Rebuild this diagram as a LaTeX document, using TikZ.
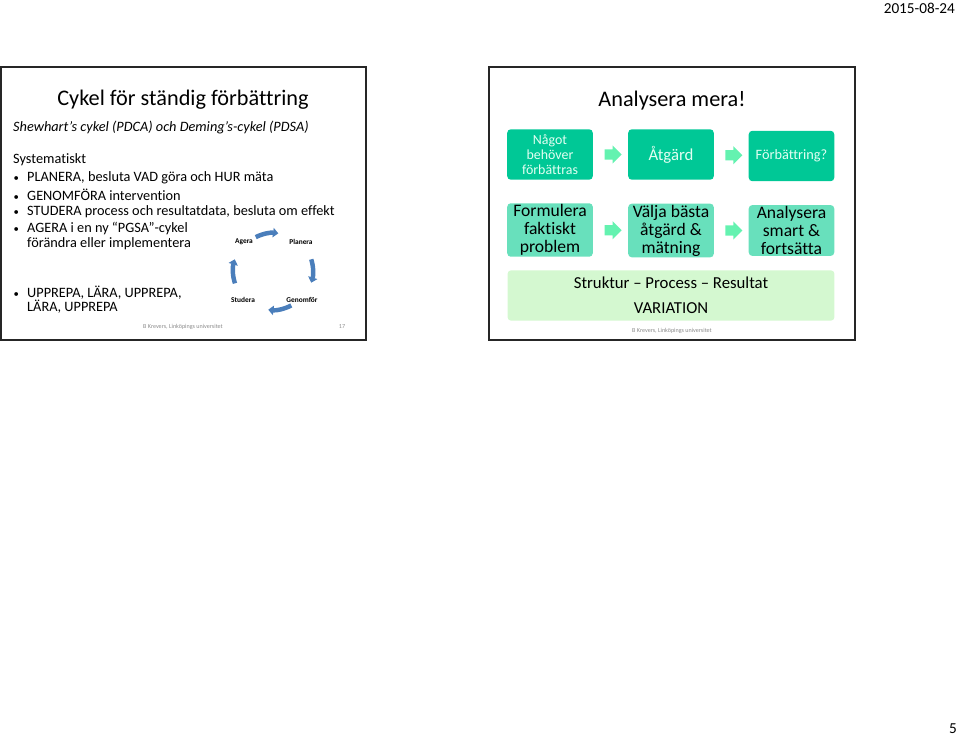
\documentclass[tikz,border=0pt]{standalone}
\usepackage{fontspec}
\setmainfont{Carlito}[Ligatures=CommonOff]
\usepackage{tikz}
\usetikzlibrary{arrows.meta,positioning,calc,shapes.arrows}
\definecolor{actiongreen}{RGB}{0,200,150}
\definecolor{stepgreen}{RGB}{104,224,188}
\definecolor{arrowgreen}{RGB}{100,242,176}
\definecolor{variationgreen}{RGB}{212,248,208}
\definecolor{cycleblue}{RGB}{74,126,187}
\definecolor{palewhite}{RGB}{226,255,242}
\newcommand{\punkt}{\llap{\raisebox{0.4pt}{\scalebox{0.75}{\textbullet}}\hspace{7pt}}}
\tikzset{
  slideframe/.style={draw=black!85,line width=1.1pt},
  slidetitle/.style={font=\fontsize{19}{22}\selectfont},
  bodytext/.style={anchor=west,align=left,inner sep=0pt,font=\fontsize{12.2}{12.2}\selectfont},
  cyclelabel/.style={font=\fontsize{6.3}{7}\selectfont\bfseries},
  cyclearrow/.style={-{Triangle[length=4.5pt,width=8pt]},line width=3.8pt,draw=cycleblue},
  topbox/.style={fill=actiongreen,rounded corners=3pt,minimum width=73pt,minimum height=43pt,
    align=center,text=palewhite,inner sep=1pt},
  stepbox/.style={fill=stepgreen,rounded corners=3pt,minimum width=73pt,minimum height=43pt,
    align=center,inner sep=1pt,font=\fontsize{15}{15.4}\selectfont},
  flowarrow/.style={single arrow,fill=arrowgreen,minimum height=14.5pt,inner sep=4.2pt,
    single arrow head extend=3.3pt},
  footer/.style={font=\fontsize{5.2}{6}\selectfont,text=black!45}
}
\begin{document}
\begin{tikzpicture}[x=0.03cm,y=-0.03cm]
  \useasboundingbox (0,0) rectangle (960,735);
  % header and page number
  \node[anchor=east,font=\fontsize{13}{15}\selectfont] (datum) at (959,8) {2015-08-24};
  \node[anchor=base east,inner sep=0pt,font=\fontsize{13}{15}\selectfont] (sidnr) at (957,733) {5};

  % slide 17: PDSA
  \draw[slideframe] (1,67) rectangle (366,340);
  \node[slidetitle] (cykeltitel) at (183,100) {Cykel för ständig förbättring};
  \node[bodytext,font=\fontsize{12.2}{14}\selectfont\itshape] (shewhart) at (13,128)
    {Shewhart’s cykel (PDCA) och Deming’s-cykel (PDSA)};
  \node[bodytext] (syst) at (13,160) {Systematiskt};
  \node[bodytext] (planera_txt) at (27,178) {\punkt PLANERA, besluta VAD göra och HUR mäta};
  \node[bodytext] (genomfor_txt) at (27,195) {\punkt GENOMFÖRA intervention};
  \node[bodytext] (studera_txt) at (27,212) {\punkt STUDERA process och resultatdata, besluta om effekt};
  \node[bodytext] (agera_txt) at (27,236) {\punkt AGERA i en ny “PGSA”-cykel\\förändra eller implementera};
  \node[bodytext] (upprepa_txt) at (27,300) {\punkt UPPREPA, LÄRA, UPPREPA,\\LÄRA, UPPREPA};
  \node[footer] (fot1) at (183,327) {B Krevers, Linköpings universitet};
  \node[footer] (nr17) at (342,327) {17};

  % PDSA cycle
  \coordinate (hub) at (273,271);
  \node[cyclelabel] (agera) at (244,242) {Agera};
  \node[cyclelabel] (planera) at (301,242) {Planera};
  \node[cyclelabel] (genomfor) at (302,300) {Genomför};
  \node[cyclelabel] (studera) at (243,300) {Studera};
  \draw[cyclearrow] ($(hub)+(-117:38)$) arc[start angle=-117,end angle=-82,radius=38];
  \draw[cyclearrow] ($(hub)+(-17:40)$) arc[start angle=-17,end angle=17,radius=40];
  \draw[cyclearrow] ($(hub)+(62:39)$) arc[start angle=62,end angle=97,radius=39];
  \draw[cyclearrow] ($(hub)+(162:40)$) arc[start angle=162,end angle=197,radius=40];

  % slide 5: Analysera mera
  \draw[slideframe] (489,67) rectangle (855,340);
  \node[slidetitle] (analystitel) at (672,101) {Analysera mera!};
  \node[topbox,font=\fontsize{11.9}{12.8}\selectfont] (behov) at (550,154.5) {Något\\behöver\\förbättras};
  \node[topbox,font=\fontsize{14.3}{16}\selectfont] (atgard) at (671,154.5) {Åtgärd};
  \node[topbox,font=\fontsize{12.2}{14}\selectfont] (forbattring) at (791.5,156) {Förbättring?};
  \node[stepbox] (formulera) at (550,230) {Formulera\\faktiskt\\problem};
  \node[stepbox] (valja) at (671,230.5) {Välja bästa\\åtgärd \&\\mätning};
  \node[stepbox] (analysera) at (791.5,230.5) {Analysera\\smart \&\\fortsätta};
  \node[flowarrow] (pil1) at ($(behov.east)!0.5!(atgard.west)$) {};
  \node[flowarrow] (pil2) at ($(atgard.east)!0.5!(forbattring.west)$) {};
  \node[flowarrow] (pil3) at ($(formulera.east)!0.5!(valja.west)$) {};
  \node[flowarrow] (pil4) at ($(valja.east)!0.5!(analysera.west)$) {};
  \node[fill=variationgreen,rounded corners=3pt,minimum width=279pt,minimum height=43pt] (variation) at (671,295.5) {};
  \node[font=\fontsize{14.3}{16}\selectfont] (spr) at (671,283) {Struktur – Process – Resultat};
  \node[font=\fontsize{14.3}{16}\selectfont] (var) at (671,308) {VARIATION};
  \node[footer] (fot2) at (672,331) {B Krevers, Linköpings universitet};
\end{tikzpicture}
\end{document}
